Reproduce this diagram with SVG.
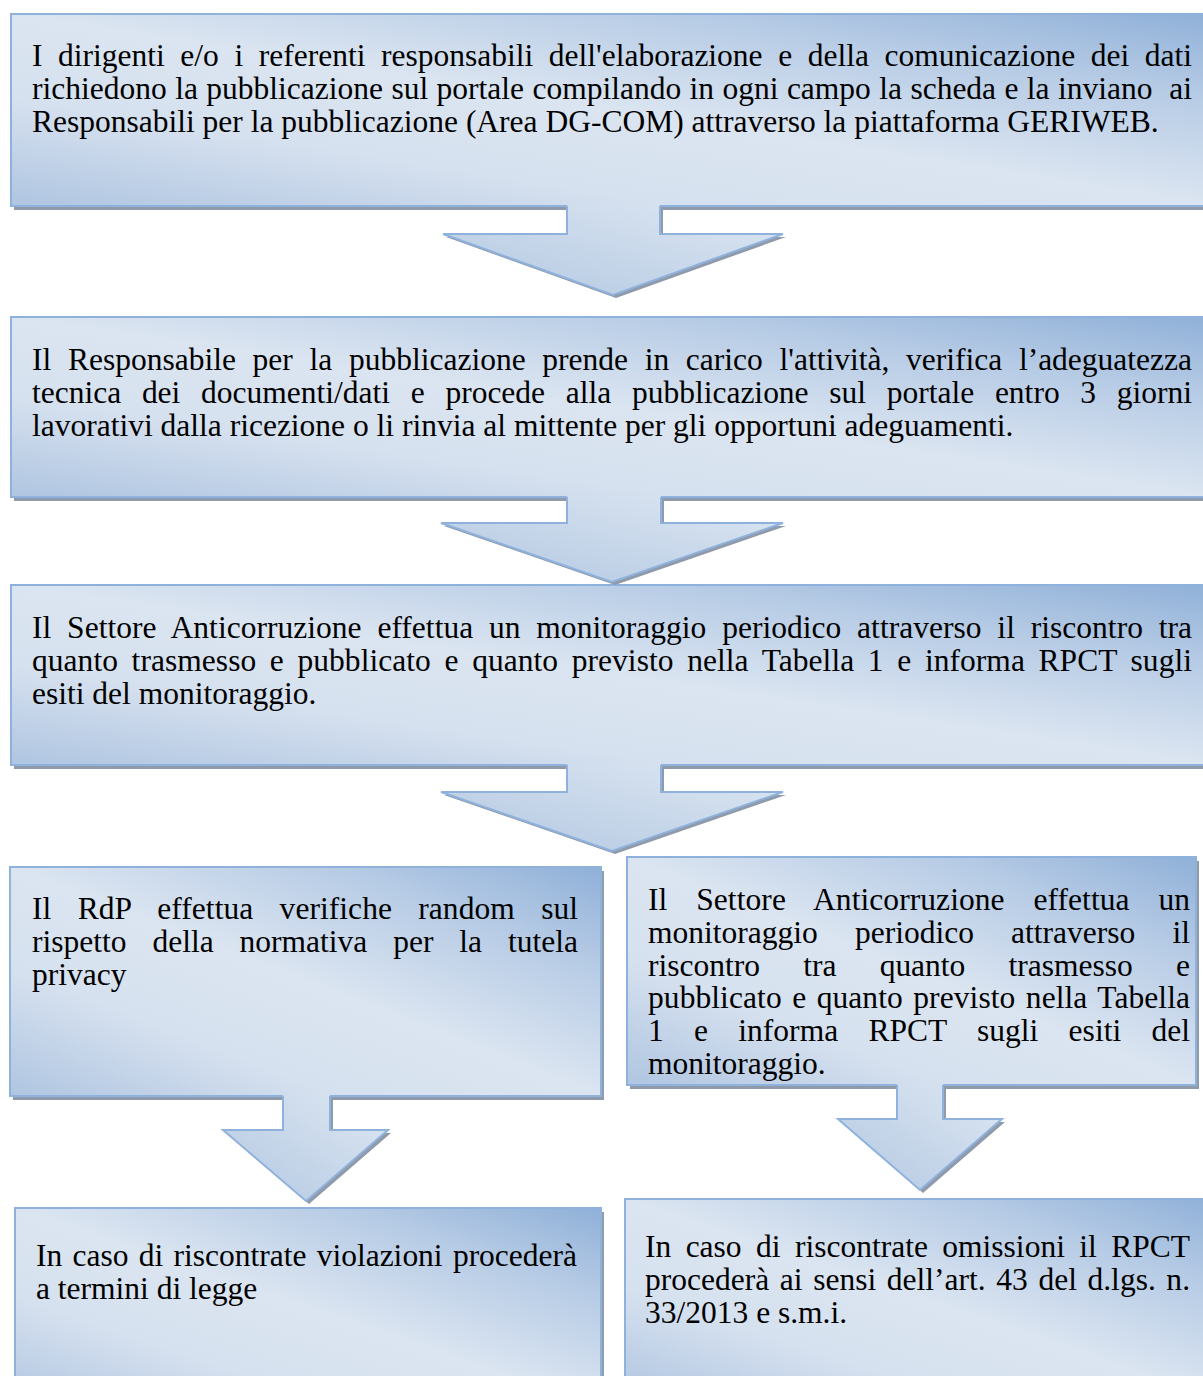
<svg xmlns="http://www.w3.org/2000/svg" width="1203" height="1376" viewBox="0 0 1203 1376">
<defs>
<linearGradient id="boxGrad" x1="1" y1="0" x2="0" y2="1">
<stop offset="0" stop-color="#8fb0d8"/>
<stop offset="0.22" stop-color="#b6cbe5"/>
<stop offset="0.5" stop-color="#dbe5f1"/>
<stop offset="0.72" stop-color="#d6e1ef"/>
<stop offset="1" stop-color="#afc5e1"/>
</linearGradient>
<linearGradient id="arrGrad" x1="0" y1="1" x2="1" y2="0">
<stop offset="0" stop-color="#b3c8e2"/>
<stop offset="1" stop-color="#dde7f2"/>
</linearGradient>
<style>
.box{fill:url(#boxGrad);stroke:#8fb2dc;stroke-width:2}
.shadow{fill:#8f9aab}
.afill{fill:url(#arrGrad)}
.aline{fill:none;stroke:#8fb2dc;stroke-width:2;stroke-linejoin:miter}
.t{font-family:"Liberation Serif","Times New Roman",serif;font-size:31.5px;fill:#000}
</style>
</defs>

<g id="node1">
<rect class="shadow" x="14" y="18" width="1204" height="192"/>
<rect class="box" x="11" y="14" width="1204" height="192"/>
<text class="t" x="32" y="66" word-spacing="7.7" textLength="1160" lengthAdjust="spacing">I dirigenti e/o i referenti responsabili dell'elaborazione e della comunicazione dei dati</text>
<text class="t" x="32" y="99" word-spacing="0.5" textLength="1160" lengthAdjust="spacing" style="white-space:pre">richiedono la pubblicazione sul portale compilando in ogni campo la scheda e la inviano  ai</text>
<text class="t" x="32" y="132">Responsabili per la pubblicazione (Area DG-COM) attraverso la piattaforma GERIWEB.</text>
</g>

<g id="node2">
<rect class="shadow" x="14" y="321" width="1204" height="180"/>
<rect class="box" x="11" y="317" width="1204" height="180"/>
<text class="t" x="32" y="370" word-spacing="8.8" textLength="1160" lengthAdjust="spacing">Il Responsabile per la pubblicazione prende in carico l'attività, verifica l’adeguatezza</text>
<text class="t" x="32" y="403" word-spacing="12.8" textLength="1160" lengthAdjust="spacing">tecnica dei documenti/dati e procede alla pubblicazione sul portale entro 3 giorni</text>
<text class="t" x="32" y="436">lavorativi dalla ricezione o li rinvia al mittente per gli opportuni adeguamenti.</text>
</g>

<g id="node3">
<rect class="shadow" x="14" y="589" width="1204" height="180"/>
<rect class="box" x="11" y="585" width="1204" height="180"/>
<text class="t" x="32" y="638" word-spacing="7.9" textLength="1160" lengthAdjust="spacing">Il Settore Anticorruzione effettua un monitoraggio periodico attraverso il riscontro tra</text>
<text class="t" x="32" y="671" word-spacing="5.7" textLength="1160" lengthAdjust="spacing">quanto trasmesso e pubblicato e quanto previsto nella Tabella 1 e informa RPCT sugli</text>
<text class="t" x="32" y="704">esiti del monitoraggio.</text>
</g>

<g id="node4">
<rect class="shadow" x="13" y="871" width="591" height="229"/>
<rect class="box" x="10" y="867" width="591" height="229"/>
<text class="t" x="32" y="919" word-spacing="18.4" textLength="546" lengthAdjust="spacing">Il RdP effettua verifiche random sul</text>
<text class="t" x="32" y="952" word-spacing="18" textLength="546" lengthAdjust="spacing">rispetto della normativa per la tutela</text>
<text class="t" x="32" y="985">privacy</text>
</g>

<g id="node5">
<rect class="shadow" x="630" y="861" width="569" height="228"/>
<rect class="box" x="627" y="857" width="569" height="228"/>
<text class="t" x="648" y="910" word-spacing="20.9" textLength="542" lengthAdjust="spacing">Il Settore Anticorruzione effettua un</text>
<text class="t" x="648" y="943" word-spacing="29.3" textLength="542" lengthAdjust="spacing">monitoraggio periodico attraverso il</text>
<text class="t" x="648" y="976" word-spacing="35.3" textLength="542" lengthAdjust="spacing">riscontro tra quanto trasmesso e</text>
<text class="t" x="648" y="1008" word-spacing="2.5" textLength="542" lengthAdjust="spacing">pubblicato e quanto previsto nella Tabella</text>
<text class="t" x="648" y="1041" word-spacing="22.4" textLength="542" lengthAdjust="spacing">1 e informa RPCT sugli esiti del</text>
<text class="t" x="648" y="1074">monitoraggio.</text>
</g>

<g id="node6">
<rect class="shadow" x="18" y="1212" width="586" height="200"/>
<rect class="box" x="15" y="1208" width="586" height="200"/>
<text class="t" x="36" y="1266" word-spacing="2.4" textLength="541" lengthAdjust="spacing">In caso di riscontrate violazioni procederà</text>
<text class="t" x="36" y="1299">a termini di legge</text>
</g>

<g id="node7">
<rect class="shadow" x="628" y="1203" width="590" height="200"/>
<rect class="box" x="625" y="1199" width="590" height="200"/>
<text class="t" x="645" y="1257" word-spacing="6.5" textLength="545" lengthAdjust="spacing">In caso di riscontrate omissioni il RPCT</text>
<text class="t" x="645" y="1290" word-spacing="2.7" textLength="545" lengthAdjust="spacing">procederà ai sensi dell’art. 43 del d.lgs. n.</text>
<text class="t" x="645" y="1323">33/2013 e s.m.i.</text>
</g>

<g id="connectors">
<g id="arrow1">
<polygon class="shadow" points="570,208 570,237 446,237 616,298 786,237 663,237 663,208"/>
<polygon class="afill" points="567,205 567,234 443,234 613,295 783,234 660,234 660,205"/>
<polyline class="aline" points="567,206 567,234 443,234 613,295 783,234 660,234 660,206"/>
</g>
<g id="arrow2">
<polygon class="shadow" points="570,499 570,526 444,526 615,585 786,526 664,526 664,499"/>
<polygon class="afill" points="567,496 567,523 441,523 612,582 783,523 661,523 661,496"/>
<polyline class="aline" points="567,497 567,523 441,523 612,582 783,523 661,523 661,497"/>
</g>
<g id="arrow3">
<polygon class="shadow" points="570,767 570,795 444,795 615,854 786,795 664,795 664,767"/>
<polygon class="afill" points="567,764 567,792 441,792 612,851 783,792 661,792 661,764"/>
<polyline class="aline" points="567,765 567,792 441,792 612,851 783,792 661,792 661,765"/>
</g>
<g id="arrow4">
<polygon class="shadow" points="286,1098 286,1133 226,1133 309,1204 391,1133 333,1133 333,1098"/>
<polygon class="afill" points="283,1095 283,1130 223,1130 306,1201 388,1130 330,1130 330,1095"/>
<polyline class="aline" points="283,1096 283,1130 223,1130 306,1201 388,1130 330,1130 330,1096"/>
</g>
<g id="arrow5">
<polygon class="shadow" points="900,1087 900,1122 841,1122 923,1193 1005,1122 946,1122 946,1087"/>
<polygon class="afill" points="897,1084 897,1119 838,1119 920,1190 1002,1119 943,1119 943,1084"/>
<polyline class="aline" points="897,1085 897,1119 838,1119 920,1190 1002,1119 943,1119 943,1085"/>
</g>
</g>
</svg>
